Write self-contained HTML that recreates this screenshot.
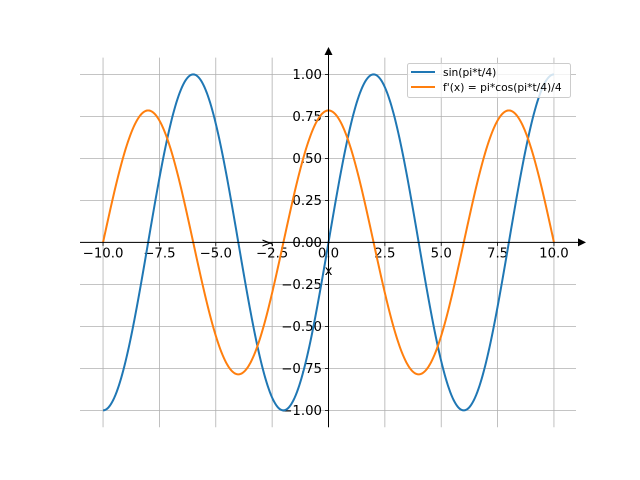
<!DOCTYPE html>
<html><head><meta charset="utf-8"><style>
html,body{margin:0;padding:0;background:#fff}
svg{display:block}
text{font-family:"DejaVu Sans","Liberation Sans",sans-serif}
</style></head><body>
<svg id="s" width="640" height="480" viewBox="0 0 640 480" xmlns="http://www.w3.org/2000/svg">
<g id="grid" stroke="#b0b0b0" stroke-width="0.8"></g>
<g id="lab" font-size="13.3" fill="#000"></g>
<path id="sin" fill="none" stroke="#1f77b4" stroke-width="2"/>
<path id="cos" fill="none" stroke="#ff7f0e" stroke-width="2"/>
<line x1="80" y1="242.4" x2="580" y2="242.4" stroke="#000" stroke-width="1"/>
<polygon points="586,242.4 578,238.4 578,246.4" fill="#000"/>
<line x1="328.5" y1="427.2" x2="328.5" y2="54" stroke="#000" stroke-width="1"/>
<polygon points="328.5,47 324.5,55 332.5,55" fill="#000"/>
<text x="328.5" y="275" font-size="13.3" text-anchor="middle">x</text>
<text transform="translate(270,243) rotate(-90)" font-size="13.3" text-anchor="middle">y</text>
<rect x="407.5" y="63.5" width="163" height="34" rx="2" fill="#fff" fill-opacity="0.8" stroke="#ccc" stroke-width="1"/>
<line x1="411" y1="72" x2="435" y2="72" stroke="#1f77b4" stroke-width="2"/>
<line x1="411" y1="87" x2="435" y2="87" stroke="#ff7f0e" stroke-width="2"/>
<text x="443" y="76" font-size="10.7">sin(pi*t/4)</text>
<text x="443" y="91" font-size="10.7">f'(x) = pi*cos(pi*t/4)/4</text>
</svg>
<script>
var X=function(x){return 328.5+22.545*x},Y=function(y){return 242.4-168*y};
var g=document.getElementById('grid'),L=document.getElementById('lab'),ns='http://www.w3.org/2000/svg';
function el(p,t,a,txt){var e=document.createElementNS(ns,t);for(var k in a)e.setAttribute(k,a[k]);if(txt!=null)e.textContent=txt;p.appendChild(e);return e;}
var xs=[-10,-7.5,-5,-2.5,0,2.5,5,7.5,10];
xs.forEach(function(v){var x=X(v);el(g,'line',{x1:x,x2:x,y1:57.6,y2:427.2});
el(L,'line',{x1:x,x2:x,y1:242.4,y2:245.9,stroke:'#000','stroke-width':0.8});
el(L,'text',{x:x,y:257.5,'text-anchor':'middle'},v.toFixed(1).replace('-','\u2212'));});
var ys=[-1,-0.75,-0.5,-0.25,0,0.25,0.5,0.75,1];
ys.forEach(function(v){var y=Y(v);el(g,'line',{x1:80,x2:576,y1:y,y2:y});
el(L,'line',{x1:325,x2:328.5,y1:y,y2:y,stroke:'#000','stroke-width':0.8});
el(L,'text',{x:322,y:y+4.8,'text-anchor':'end'},v.toFixed(2).replace('-','\u2212'));});
var a='',b='';for(var i=0;i<=400;i++){var t=-10+i*0.05;var c=i?'L':'M';
a+=c+X(t).toFixed(2)+' '+Y(Math.sin(Math.PI*t/4)).toFixed(2);
b+=c+X(t).toFixed(2)+' '+Y(Math.PI*Math.cos(Math.PI*t/4)/4).toFixed(2);}
document.getElementById('sin').setAttribute('d',a);document.getElementById('cos').setAttribute('d',b);
</script>
</body></html>
